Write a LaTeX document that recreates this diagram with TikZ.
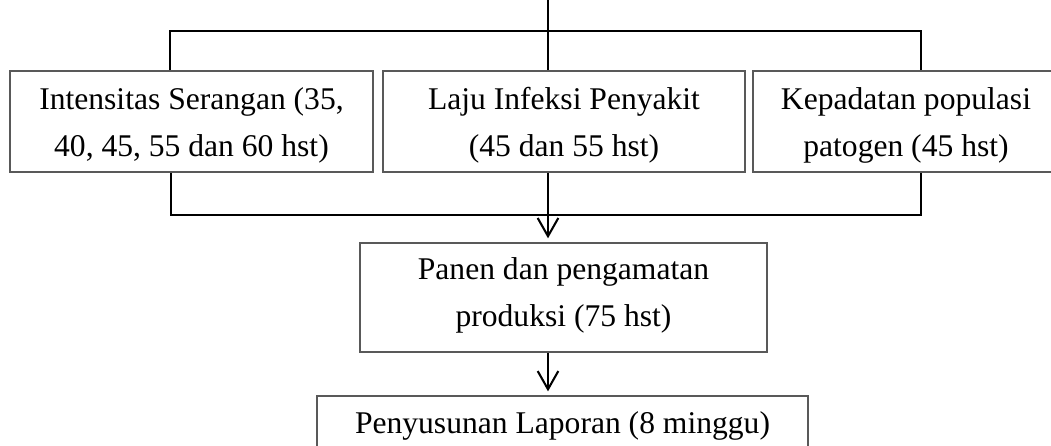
\documentclass[tikz,border=0pt]{standalone}
\usepackage{fontspec}
\setmainfont{Liberation Serif}
\usepackage{tikz}
\usetikzlibrary{arrows.meta}

\begin{document}
\begin{tikzpicture}[x=0.4115pt, y=-0.4115pt,
    box/.style={draw=black!65, line width=0.6pt, align=center, inner sep=0pt,
        font=\fontsize{13}{19}\selectfont},
    twoline/.style={text height=31.4pt, text depth=3pt},
    wire/.style={draw=black, line width=0.85pt},
    arr/.style={wire, -{Straight Barb[length=7.5pt, width=8.5pt]}}]
    \useasboundingbox (0,0) rectangle (1051,446);

    \node[box, twoline, minimum width=149.4pt, minimum height=41.6pt](intensitas) at (191.5,121.5)
        {Intensitas Serangan (35,\\40, 45, 55 dan 60 hst)};
    \node[box, twoline, minimum width=149pt, minimum height=41.6pt](laju)         at (564,121.5)
        {Laju Infeksi Penyakit\\(45 dan 55 hst)};
    \node[box, twoline, minimum width=125.9pt, minimum height=41.6pt](kepadatan)  at (906,121.5)
        {Kepadatan populasi\\patogen (45 hst)};
    \node[box, twoline, text height=26.5pt, minimum width=167.5pt, minimum height=44.9pt](panen) at (563.5,297.5)
        {Panen dan pengamatan\\produksi (75 hst)};
    \node[box, minimum width=202pt, minimum height=24.7pt](laporan)      at (562.5,426)
        {Penyusunan Laporan (8 minggu)};

    \coordinate (start)  at (548,0);
    \coordinate (bagiL)  at (170,31);
    \coordinate (bagiR)  at (921,31);
    \coordinate (gabungL) at (171,215);
    \coordinate (gabungR) at (921,215);

    % percabangan atas
    \draw[wire] (start) -- (start |- laju.north);
    \draw[wire] (bagiL |- intensitas.north) -- (bagiL) -- (bagiR) -- (bagiR |- kepadatan.north);
    % penggabungan bawah
    \draw[wire] (gabungL |- intensitas.south) -- (gabungL) -- (gabungR) -- (gabungR |- kepadatan.south);
    \draw[arr] (start |- laju.south) -- ([yshift=1.6pt]start |- panen.north);
    \draw[arr] (start |- panen.south) -- ([yshift=1.6pt]start |- laporan.north);
\end{tikzpicture}
\end{document}
